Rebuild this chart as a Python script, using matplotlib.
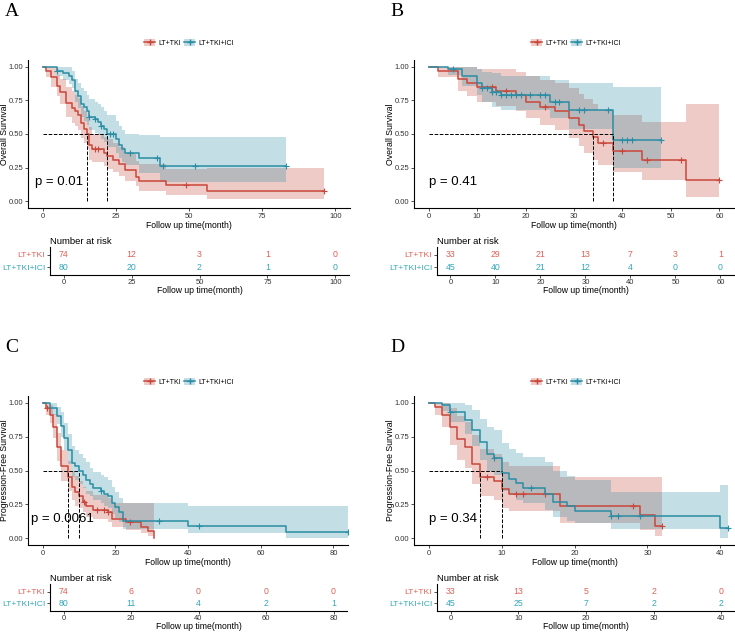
import numpy as np
import matplotlib.pyplot as plt
from matplotlib.patches import Patch
from matplotlib.lines import Line2D

plt.rcParams['font.family'] = ['Liberation Sans', 'DejaVu Sans']

groups = ['LT+TKI', 'LT+TKI+ICI']
red = '#C9473A'
teal = '#2A8DA3'
red_txt = '#DE6156'
teal_txt = '#34A7B8'

# ---------- panel A : overall survival ----------
a_red_t = [0, 1, 3, 5, 6, 8, 10, 11, 12, 13, 14, 15, 16, 17, 21, 22, 24, 26, 28, 32, 33, 42, 56, 96]
a_red_s = [1.0, 0.97, 0.92, 0.86, 0.81, 0.73, 0.69, 0.67, 0.64, 0.58, 0.54, 0.50, 0.42, 0.39, 0.36, 0.34, 0.31, 0.28, 0.23, 0.18, 0.15, 0.12, 0.075, 0.075]
a_red_lo = [1.0, 0.92, 0.85, 0.78, 0.72, 0.63, 0.58, 0.56, 0.53, 0.47, 0.43, 0.39, 0.31, 0.29, 0.26, 0.24, 0.22, 0.19, 0.15, 0.11, 0.08, 0.05, 0.02, 0.02]
a_red_hi = [1.0, 1.0, 1.0, 0.94, 0.91, 0.85, 0.82, 0.79, 0.77, 0.71, 0.67, 0.63, 0.55, 0.50, 0.48, 0.46, 0.43, 0.40, 0.35, 0.30, 0.28, 0.24, 0.25, 0.25]
a_red_c = [18, 19, 49, 96]

a_blue_t = [0, 5, 7, 9, 10, 11, 12, 13, 14, 15, 16, 18, 19, 20, 21, 22, 25, 26, 27, 28, 33, 40, 83]
a_blue_s = [1.0, 0.97, 0.95, 0.93, 0.90, 0.82, 0.78, 0.72, 0.70, 0.67, 0.63, 0.61, 0.59, 0.56, 0.54, 0.50, 0.46, 0.42, 0.39, 0.36, 0.32, 0.26, 0.26]
a_blue_lo = [1.0, 0.93, 0.90, 0.87, 0.84, 0.74, 0.69, 0.63, 0.60, 0.57, 0.53, 0.51, 0.49, 0.46, 0.44, 0.40, 0.36, 0.32, 0.29, 0.27, 0.21, 0.14, 0.14]
a_blue_hi = [1.0, 1.0, 1.0, 1.0, 0.97, 0.91, 0.88, 0.84, 0.82, 0.79, 0.76, 0.74, 0.72, 0.70, 0.67, 0.64, 0.60, 0.56, 0.53, 0.50, 0.49, 0.48, 0.48]
a_blue_c = [5, 16, 18, 20, 23, 24, 30, 39, 41, 52, 83]

# ---------- panel B : overall survival ----------
b_red_t = [0, 2, 6, 8, 10, 14, 18, 20, 23, 26, 29, 31, 32, 34, 35, 38, 44, 53, 60]
b_red_s = [1.0, 0.97, 0.91, 0.88, 0.85, 0.82, 0.79, 0.74, 0.70, 0.67, 0.62, 0.57, 0.52, 0.48, 0.43, 0.37, 0.31, 0.155, 0.155]
b_red_lo = [1.0, 0.92, 0.82, 0.78, 0.74, 0.71, 0.67, 0.62, 0.57, 0.53, 0.47, 0.41, 0.36, 0.31, 0.27, 0.22, 0.16, 0.035, 0.035]
b_red_hi = [1.0, 1.0, 1.0, 1.0, 0.98, 0.98, 0.96, 0.93, 0.90, 0.88, 0.84, 0.80, 0.76, 0.72, 0.68, 0.64, 0.59, 0.72, 0.72]
b_red_c = [13, 16, 24, 36, 40, 45, 52, 60]

b_blue_t = [0, 4, 7, 10, 11, 13, 15, 25, 29, 38, 48]
b_blue_s = [1.0, 0.98, 0.93, 0.88, 0.84, 0.81, 0.79, 0.74, 0.68, 0.455, 0.455]
b_blue_lo = [1.0, 0.94, 0.86, 0.79, 0.74, 0.70, 0.68, 0.62, 0.54, 0.25, 0.25]
b_blue_hi = [1.0, 1.0, 1.0, 0.98, 0.96, 0.95, 0.93, 0.90, 0.88, 0.85, 0.85]
b_blue_c = [5, 11, 12, 13, 14, 15, 16, 17, 18, 19, 21, 23, 24, 26, 27, 31, 32, 37, 40, 41, 42, 48]

# ---------- panel C : progression-free survival ----------
c_red_t = [0, 1, 2, 3, 4, 5, 7, 8, 9, 10, 11, 12, 14, 18, 19, 23, 27, 29, 30.7]
c_red_s = [1.0, 0.96, 0.91, 0.82, 0.67, 0.53, 0.45, 0.38, 0.34, 0.31, 0.27, 0.24, 0.21, 0.19, 0.14, 0.12, 0.085, 0.05, 0.0]
c_red_lo = [1.0, 0.91, 0.85, 0.74, 0.57, 0.42, 0.35, 0.28, 0.24, 0.22, 0.19, 0.16, 0.14, 0.12, 0.08, 0.06, 0.04, 0.02, 0.0]
c_red_hi = [1.0, 1.0, 0.98, 0.92, 0.78, 0.65, 0.57, 0.50, 0.46, 0.42, 0.38, 0.35, 0.32, 0.30, 0.26, 0.26, 0.26, 0.26, 0.0]
c_red_c = [1.3, 11.5, 15, 17, 18, 24]

c_blue_t = [0, 2, 4, 5, 6, 7, 8, 9, 10, 11, 12, 13, 14, 16, 17, 18, 19, 20, 21, 22, 40, 67, 84]
c_blue_s = [1.0, 0.96, 0.90, 0.83, 0.74, 0.65, 0.555, 0.53, 0.50, 0.47, 0.43, 0.40, 0.37, 0.35, 0.33, 0.31, 0.26, 0.23, 0.19, 0.126, 0.089, 0.045, 0.045]
c_blue_lo = [1.0, 0.91, 0.84, 0.75, 0.65, 0.55, 0.45, 0.43, 0.40, 0.37, 0.33, 0.31, 0.28, 0.26, 0.24, 0.22, 0.18, 0.15, 0.12, 0.065, 0.04, 0.0, 0.0]
c_blue_hi = [1.0, 1.0, 0.97, 0.93, 0.85, 0.77, 0.68, 0.65, 0.62, 0.59, 0.56, 0.52, 0.49, 0.47, 0.45, 0.43, 0.38, 0.34, 0.30, 0.26, 0.24, 0.24, 0.24]
c_blue_c = [16, 32, 43, 84]

# ---------- panel D : progression-free survival ----------
d_red_t = [0, 0.9, 1.9, 2.9, 3.9, 5, 5.9, 7, 8.9, 10, 11, 18, 29, 31, 32]
d_red_s = [1.0, 0.97, 0.91, 0.82, 0.73, 0.67, 0.55, 0.455, 0.42, 0.36, 0.33, 0.24, 0.175, 0.09, 0.09]
d_red_lo = [1.0, 0.91, 0.82, 0.69, 0.58, 0.52, 0.40, 0.31, 0.28, 0.22, 0.20, 0.11, 0.06, 0.015, 0.015]
d_red_hi = [1.0, 1.0, 1.0, 0.96, 0.90, 0.86, 0.76, 0.66, 0.62, 0.56, 0.53, 0.45, 0.45, 0.45, 0.45]
d_red_c = [8, 12, 13, 16, 28, 32]

d_blue_t = [0, 1.9, 2.9, 5, 5.9, 7, 8, 8.9, 10, 11, 12, 13, 16, 17, 19, 20, 25, 40, 41]
d_blue_s = [1.0, 0.98, 0.93, 0.87, 0.80, 0.71, 0.62, 0.59, 0.48, 0.44, 0.41, 0.37, 0.33, 0.27, 0.236, 0.20, 0.162, 0.076, 0.076]
d_blue_lo = [1.0, 0.94, 0.86, 0.77, 0.68, 0.58, 0.50, 0.47, 0.35, 0.32, 0.28, 0.26, 0.21, 0.16, 0.13, 0.11, 0.065, 0.0, 0.0]
d_blue_hi = [1.0, 1.0, 1.0, 0.98, 0.95, 0.88, 0.82, 0.80, 0.70, 0.66, 0.63, 0.60, 0.56, 0.50, 0.46, 0.43, 0.34, 0.39, 0.39]
d_blue_c = [2.9, 8.9, 14, 25, 26, 29, 41]

# medians and p values
a_med = [15, 22]
b_med = [34, 38]
c_med = [7, 10]
d_med = [7, 10]
pvals = ['p = 0.01', 'p = 0.41', 'p = 0.0061', 'p = 0.34']

# risk tables
a_times = [0, 25, 50, 75, 100]
a_risk = [[74, 12, 3, 1, 0], [80, 20, 2, 1, 0]]
b_times = [0, 10, 20, 30, 40, 50, 60]
b_risk = [[33, 29, 21, 13, 7, 3, 1], [45, 40, 21, 12, 4, 0, 0]]
c_times = [0, 20, 40, 60, 80]
c_risk = [[74, 6, 0, 0, 0], [80, 11, 4, 2, 1]]
d_times = [0, 10, 20, 30, 40]
d_risk = [[33, 13, 5, 2, 0], [45, 25, 7, 2, 2]]

W, H = 735, 632
fig = plt.figure(figsize=(W / 100, H / 100), dpi=100)


def px_axes(left, top, right, bottom):
    return fig.add_axes([left / W, 1 - bottom / H, (right - left) / W, (bottom - top) / H])


def style(ax):
    for s in ['top', 'right']:
        ax.spines[s].set_visible(False)
    for s in ['left', 'bottom']:
        ax.spines[s].set_linewidth(0.8)
    ax.tick_params(labelsize=5.5, length=2, width=0.6, pad=1.5, colors='#333333')


def step_at(t, s, x):
    i = np.searchsorted(t, x, side='right') - 1
    return np.asarray(s)[i]


def km_panel(ax, curves, med, xmax, xticks, ylab, ptxt, pxpos):
    for t, s, lo, hi, cens, col in curves:
        ax.fill_between(t, lo, hi, step='post', color=col, alpha=0.28, lw=0)
        ax.step(t, s, where='post', color=col, lw=1.1)
        ax.plot(cens, step_at(t, s, cens), '+', color=col, ms=4, mew=0.8)
    ax.plot([0, max(med)], [0.5, 0.5], ls='--', color='black', lw=0.7)
    for m in med:
        ax.plot([m, m], [0, 0.5], ls='--', color='black', lw=0.7)
    ax.set_xlim(-0.05 * xmax, 1.05 * xmax)
    ax.set_ylim(-0.05, 1.05)
    ax.set_xticks(xticks)
    ax.set_yticks([0, 0.25, 0.5, 0.75, 1.0])
    ax.set_yticklabels(['0.00', '0.25', '0.50', '0.75', '1.00'])
    ax.set_xlabel('Follow up time(month)', fontsize=6.2, labelpad=1)
    ax.set_ylabel(ylab, fontsize=6.3)
    # right edge of the rotated label sits ~19 px left of the spine
    ax.yaxis.set_label_coords(-19 / (ax.bbox.width), 0.5)
    style(ax)
    ax.text(pxpos, 0.14, ptxt, fontsize=9.5, va='center', ha='left')


def risk_panel(ax, times, risk, xmax):
    for row, (vals, col) in enumerate(zip(risk, [red_txt, teal_txt])):
        for t, v in zip(times, vals):
            ax.text(t, 2 - row, str(v), color=col, fontsize=6.3, ha='center', va='center')
    ax.set_xlim(-0.05 * xmax, 1.05 * xmax)
    ax.set_ylim(0.35, 2.65)
    ax.set_xticks(times)
    ax.set_yticks([2, 1])
    ax.set_yticklabels(groups)
    ax.set_xlabel('Follow up time(month)', fontsize=6.2, labelpad=0)
    ax.set_title('Number at risk', loc='left', fontsize=6.8, pad=2.5)
    style(ax)
    ax.tick_params(axis='y', labelsize=6.1)
    ax.tick_params(axis='x', pad=1)
    for lab, col in zip(ax.get_yticklabels(), [red_txt, teal_txt]):
        lab.set_color(col)


def legend(cx, cy):
    handles = [(Patch(facecolor=c, alpha=0.28, lw=0), Line2D([], [], color=c, marker='+', ms=4, lw=1.1))
               for c in [red, teal]]
    fig.legend(handles, groups, loc='center', bbox_to_anchor=(cx / W, 1 - cy / H), ncol=2,
               frameon=False, fontsize=5, handlelength=1.6, handleheight=1.2, columnspacing=0.5,
               handletextpad=0.4)


panels = [
    dict(curves=[(a_red_t, a_red_s, a_red_lo, a_red_hi, a_red_c, red),
                 (a_blue_t, a_blue_s, a_blue_lo, a_blue_hi, a_blue_c, teal)],
         med=a_med, xmax=100, ticks=a_times, risk=a_risk, ylab='Overall Survival',
         box=(28, 60, 350, 208), rbox=(50, 247, 349, 275), label='A', lab_xy=(5, 12), leg=(189, 43), px=-2.6),
    dict(curves=[(b_red_t, b_red_s, b_red_lo, b_red_hi, b_red_c, red),
                 (b_blue_t, b_blue_s, b_blue_lo, b_blue_hi, b_blue_c, teal)],
         med=b_med, xmax=60, ticks=b_times, risk=b_risk, ylab='Overall Survival',
         box=(414, 60, 734, 208), rbox=(437, 247, 734, 275), label='B', lab_xy=(390, 12), leg=(576, 43), px=0),
    dict(curves=[(c_red_t, c_red_s, c_red_lo, c_red_hi, c_red_c, red),
                 (c_blue_t, c_blue_s, c_blue_lo, c_blue_hi, c_blue_c, teal)],
         med=c_med, xmax=80, ticks=c_times, risk=c_risk, ylab='Progression-Free Survival',
         box=(28, 396, 348, 545), rbox=(50, 584, 347, 611), label='C', lab_xy=(5, 347), leg=(189, 382), px=-3.1),
    dict(curves=[(d_red_t, d_red_s, d_red_lo, d_red_hi, d_red_c, red),
                 (d_blue_t, d_blue_s, d_blue_lo, d_blue_hi, d_blue_c, teal)],
         med=d_med, xmax=40, ticks=d_times, risk=d_risk, ylab='Progression-Free Survival',
         box=(414, 396, 735, 545), rbox=(437, 584, 735, 611), label='D', lab_xy=(390, 347), leg=(576, 382), px=0),
]

for p, ptxt in zip(panels, pvals):
    ax = px_axes(*p['box'])
    km_panel(ax, p['curves'], p['med'], p['xmax'], p['ticks'], p['ylab'], ptxt, p['px'])
    rax = px_axes(*p['rbox'])
    risk_panel(rax, p['ticks'], p['risk'], p['xmax'])
    legend(*p['leg'])
    fig.text(p['lab_xy'][0] / W, 1 - p['lab_xy'][1] / H, p['label'], fontsize=14,
             family='Liberation Serif', va='center', ha='left')

fig.savefig('out.png', dpi=100)
